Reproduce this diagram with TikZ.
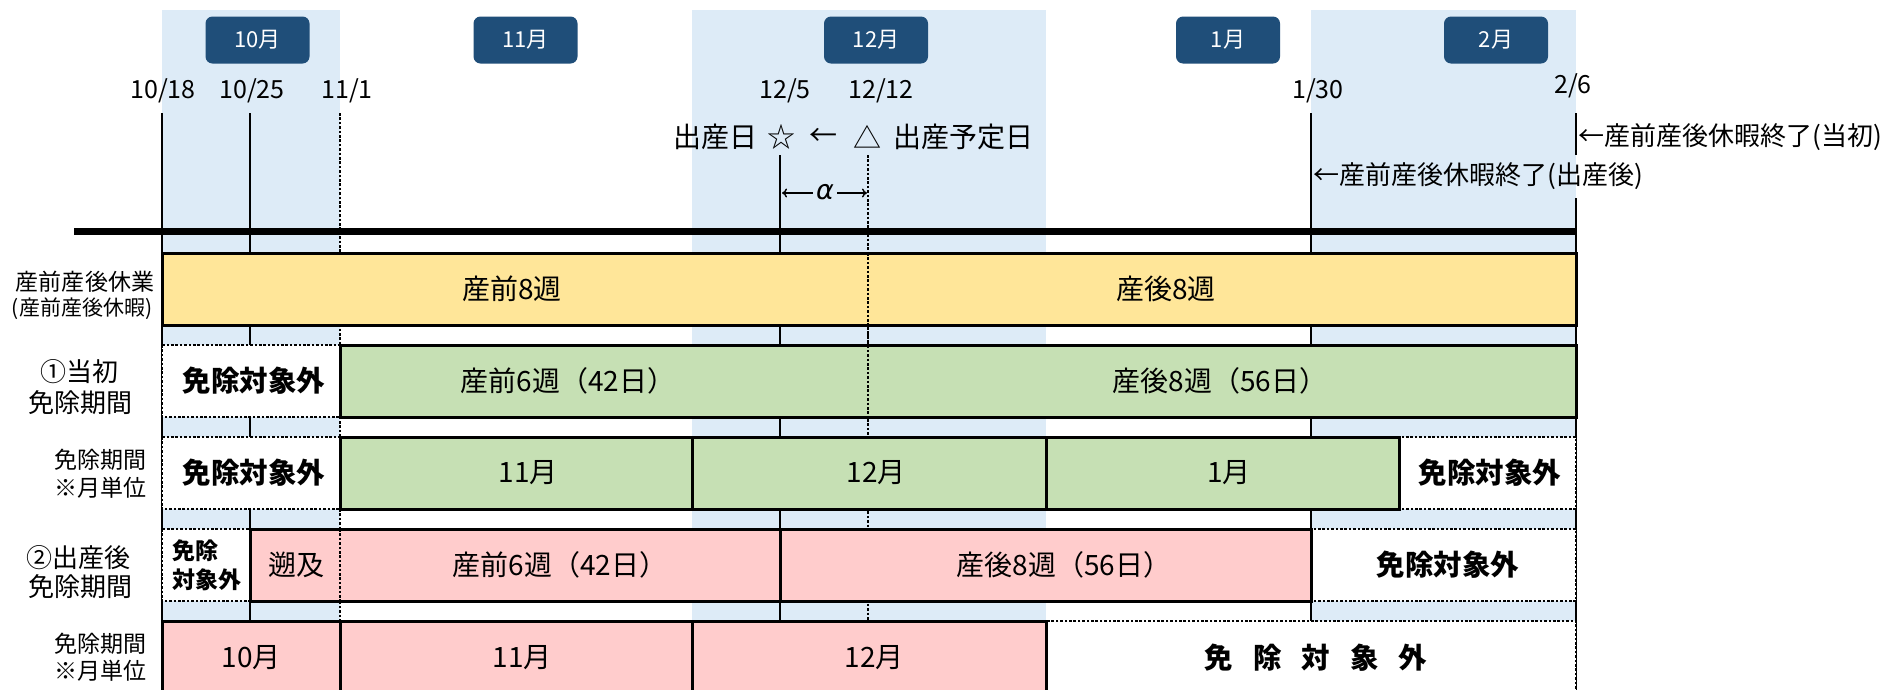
\documentclass[tikz,border=0pt]{standalone}
\usepackage{fontspec}
\setmainfont{Noto Sans CJK JP}
\newfontfamily\dvfont{DejaVu Sans}
\usetikzlibrary{arrows.meta}
\definecolor{bandc}{HTML}{DDEBF7}
\definecolor{navyc}{HTML}{1F4E79}
\definecolor{yelc}{HTML}{FFE699}
\definecolor{grnc}{HTML}{C6E0B4}
\definecolor{pnkc}{HTML}{FFCCCC}
\newcommand{\fsz}[1]{\fontsize{#1}{#1}\selectfont}
\newcommand{\gp}{\hspace{20pt}}
\begin{document}
\begin{tikzpicture}[x=1pt,y=-1pt,
  mbox/.style={fill=navyc, rounded corners=7pt, text=white, minimum width=104pt, minimum height=47pt, inner sep=0pt, font=\fsz{22}},
  datel/.style={inner sep=0pt, font=\fsz{25}},
  txt/.style={inner sep=0pt, font=\fsz{28}},
  btxt/.style={inner sep=0pt, font=\fsz{28.5}\bfseries},
  side/.style={inner sep=0pt, font=\fsz{26}},
  sidesm/.style={inner sep=0pt, font=\fsz{23}},
  box/.style={draw=black, line width=3pt},
  wcell/.style={draw=black, fill=white, line width=2.6pt, dash pattern=on 2.6pt off 1.8pt},
  vline/.style={line width=2.8pt},
  dline/.style={line width=2.6pt, dash pattern=on 2.6pt off 1.8pt},
  arr/.style={line width=1.4pt, -{To[length=5pt,width=9pt]}}
]
\clip (0,0) rectangle (1894,689);
\fill[white] (0,0) rectangle (1894,689);
% month bands
\fill[bandc] (162,10) rectangle (340,700);
\fill[bandc] (692,10) rectangle (1046,700);
\fill[bandc] (1311,10) rectangle (1576,700);
% month boxes
\node[mbox] (m10) at (257.5,40) {10月};
\node[mbox] (m11) at (525.5,40) {11月};
\node[mbox] (m12) at (876,40) {12月};
\node[mbox] (m01) at (1228,40) {1月};
\node[mbox] (m02) at (1496,40) {2月};
% dates
\node[datel] (d1) at (163,91) {10/18};
\node[datel] (d2) at (252,91) {10/25};
\node[datel] (d3) at (347,91) {11/1};
\node[datel] (d4) at (785,91) {12/5};
\node[datel] (d5) at (881,91) {12/12};
\node[datel] (d6) at (1318,91) {1/30};
\node[datel] (d7) at (1573,86) {2/6};
% birth labels
\node[txt, anchor=east] (born) at (758,137) {出産日};
\node[txt] (star) at (781,137) {☆};
\node[txt] (larr) at (823,137) {←};
\node[txt] (tri) at (867,137) {△};
\node[txt, anchor=west] (due) at (893,137) {出産予定日};
\node[inner sep=0pt, font=\fsz{27}\dvfont\itshape] (al) at (825,192) {α};
\coordinate (aL) at (782,193);
\coordinate (aR) at (867,193);
\draw[arr] (al.west) ++(-3,1) -- (aL);
\draw[arr] (al.east) ++(3,1) -- (aR);
\node[side, anchor=west] (endA) at (1578,137) {←産前産後休暇終了(当初)};
\node[side, anchor=west] (endB) at (1313,176) {←産前産後休暇終了(出産後)};
% vertical lines
\coordinate (tA) at (162,113); \coordinate (bA) at (162,700);
\coordinate (tB) at (250,113); \coordinate (bB) at (250,700);
\coordinate (tC) at (340,113); \coordinate (bC) at (340,700);
\coordinate (tD) at (780,155); \coordinate (bD) at (780,700);
\coordinate (tE) at (868,155); \coordinate (bE) at (868,700);
\coordinate (tF) at (1311,113); \coordinate (bF) at (1311,700);
\coordinate (tG) at (1576,113); \coordinate (gG1) at (1576,155);
\coordinate (gG2) at (1576,198); \coordinate (bG) at (1576,700);
\draw[vline] (tA) -- (bA);
\draw[vline] (tB) -- (bB);
\draw[dline] (tC) -- (bC);
\draw[vline] (tD) -- (bD);
\draw[dline] (tE) -- (bE);
\draw[vline] (tF) -- (bF);
\draw[vline] (tG) -- (gG1);
\draw[vline] (gG2) -- (bG);
% thick axis
\coordinate (axL) at (74,231.5);
\coordinate (axR) at (1577.4,231.5);
\draw[line width=7pt] (axL) -- (axR);
% white (excluded) cells
\draw[wcell] (162,345) rectangle (340,417);
\draw[wcell] (162,437) rectangle (340,509);
\draw[wcell] (1399,437) rectangle (1576,509);
\draw[wcell] (162,529) rectangle (250,601);
\draw[wcell] (1311,529) rectangle (1576,601);
\draw[wcell] (1046,621) rectangle (1576,700);
% coloured boxes
\draw[box, fill=yelc] (162,253) rectangle (1576,325);
\draw[box, fill=grnc] (340,345) rectangle (1576,417);
\draw[box, fill=grnc] (340,437) rectangle (692,509);
\draw[box, fill=grnc] (692,437) rectangle (1046,509);
\draw[box, fill=grnc] (1046,437) rectangle (1399,509);
\draw[box, fill=pnkc] (250,529) rectangle (780,601);
\draw[box, fill=pnkc] (780,529) rectangle (1311,601);
\draw[box, fill=pnkc] (162,621) rectangle (340,700);
\draw[box, fill=pnkc] (340,621) rectangle (692,700);
\draw[box, fill=pnkc] (692,621) rectangle (1046,700);
% overlay dotted lines
\coordinate (oE1) at (868,253); \coordinate (oE2) at (868,417);
\coordinate (oC1) at (340,529); \coordinate (oC2) at (340,601);
\draw[dline] (oE1) -- (oE2);
\draw[dline] (oC1) -- (oC2);
% row 1 texts
\node[txt] (r1a) at (512,289) {産前8週};
\node[txt] (r1b) at (1166,289) {産後8週};
% row 2
\node[btxt] (r2w) at (254,381) {免除対象外};
\node[txt] (r2a) at (568,381) {産前6週（42日）};
\node[txt] (r2b) at (1220,381) {産後8週（56日）};
% row 3
\node[btxt] (r3w) at (254,473) {免除対象外};
\node[txt] (r3a) at (528,473) {11月};
\node[txt] (r3b) at (876,473) {12月};
\node[txt] (r3c) at (1229,473) {1月};
\node[btxt] (r3w2) at (1490,473) {免除対象外};
% row 4
\node[inner sep=0pt, font=\fsz{23}\bfseries, align=left, anchor=west] (r4w) at (172,565) {免除\\[6pt]対象外};
\node[txt] (r4a) at (296,565) {遡及};
\node[txt] (r4b) at (560,565) {産前6週（42日）};
\node[txt] (r4c) at (1064,565) {産後8週（56日）};
\node[btxt] (r4w2) at (1448,565) {免除対象外};
% row 5
\node[txt] (r5a) at (251,658) {10月};
\node[txt] (r5b) at (522,658) {11月};
\node[txt] (r5c) at (874,658) {12月};
\node[btxt] (r5w) at (1316,658) {免\gp 除\gp 対\gp 象\gp 外};
% side labels
\node[sidesm] (s1a) at (85,282) {産前産後休業};
\node[sidesm, font=\fsz{21}] (s1b) at (82,309) {(産前産後休暇)};
\node[side] (s2a) at (79,372) {①当初};
\node[side] (s2b) at (80,403) {免除期間};
\node[sidesm, anchor=east] (s3a) at (147,460) {免除期間};
\node[sidesm, anchor=east] (s3b) at (147,488) {※月単位};
\node[side] (s4a) at (78,558) {②出産後};
\node[side] (s4b) at (80,587) {免除期間};
\node[sidesm, anchor=east] (s5a) at (147,644) {免除期間};
\node[sidesm, anchor=east] (s5b) at (147,671) {※月単位};
\end{tikzpicture}
\end{document}
